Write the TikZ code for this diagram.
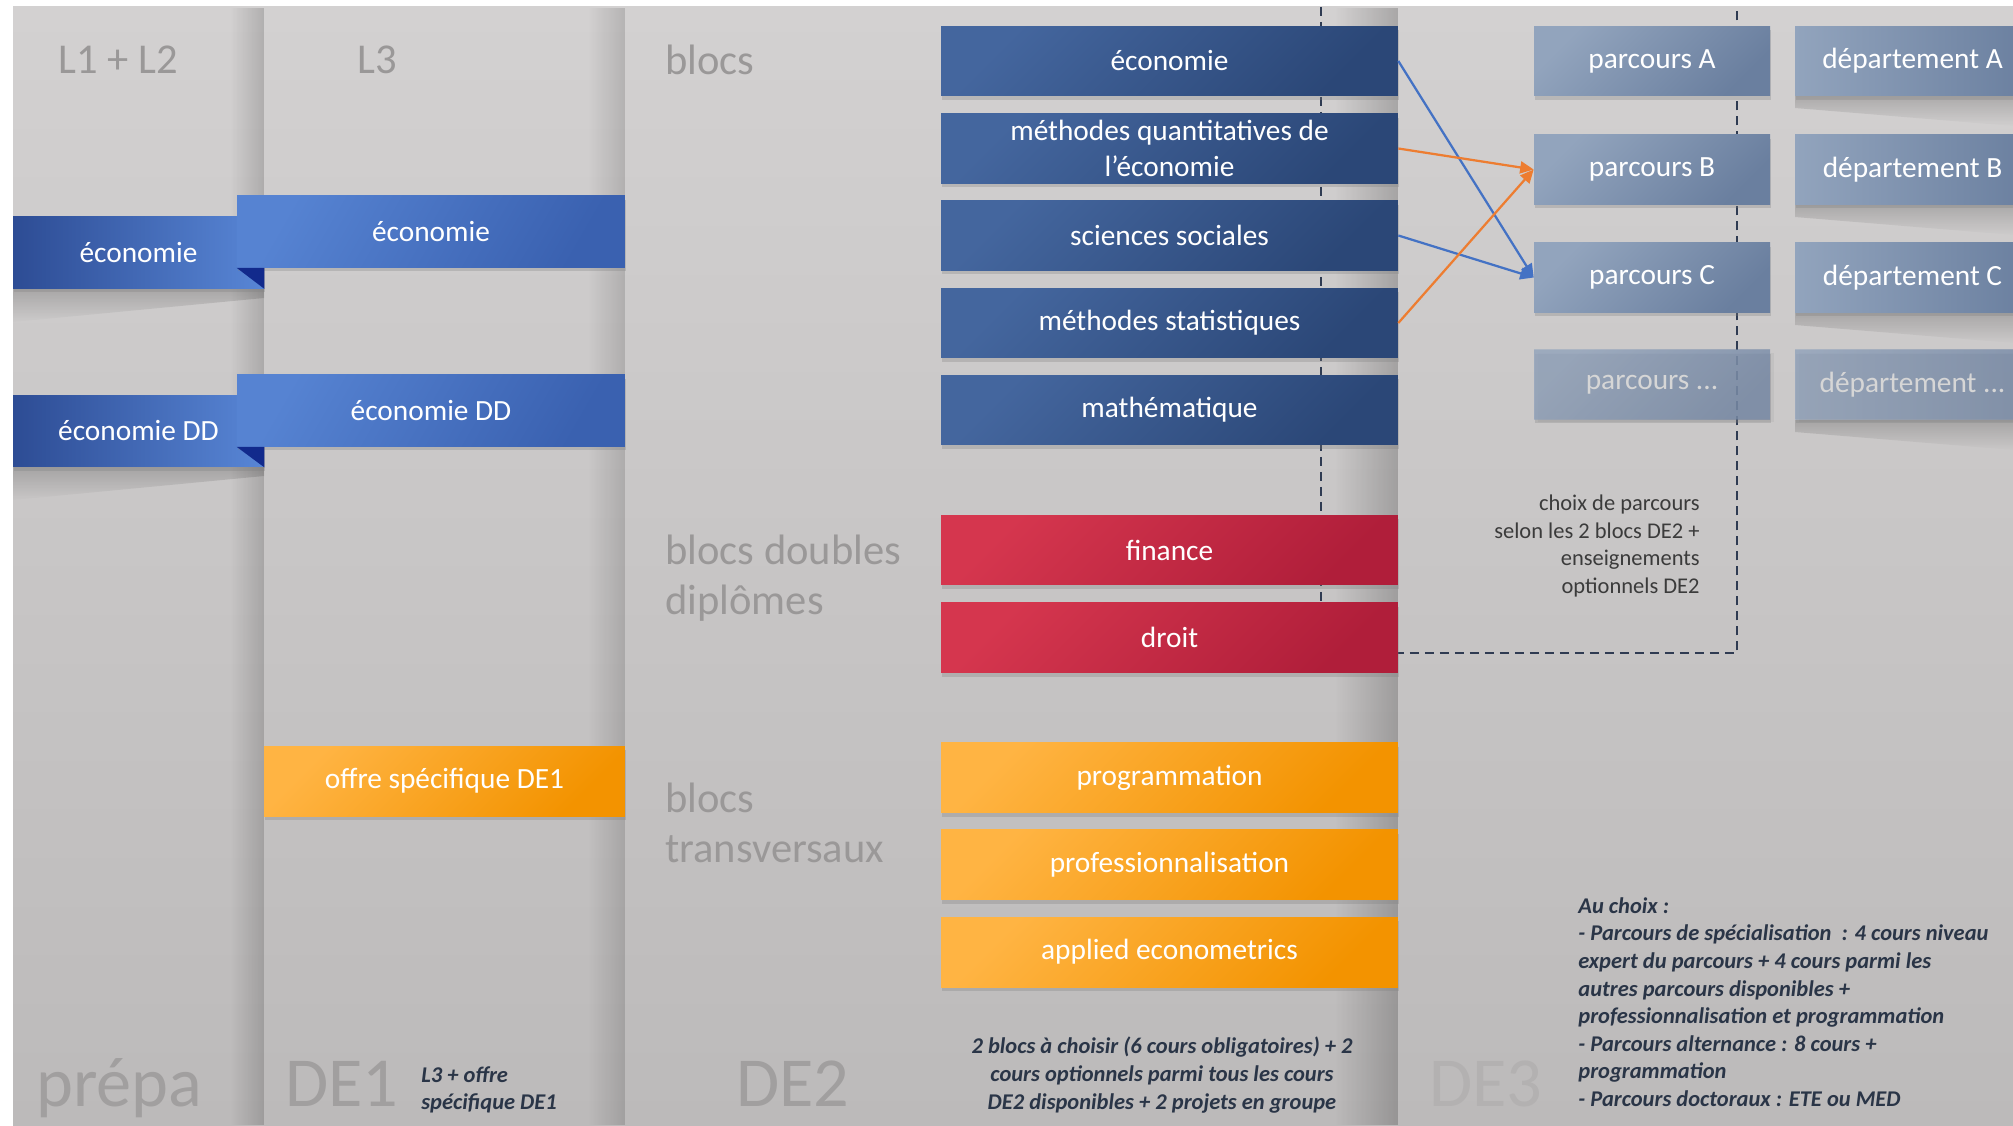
\documentclass[tikz,border=0pt]{standalone}
\usepackage{fontspec}
\setmainfont{Carlito}
\usetikzlibrary{arrows.meta,shadows,fadings}

\definecolor{bgtop}{HTML}{D3D1D1}
\definecolor{bgbot}{HTML}{BCBABA}
\definecolor{bleuA}{HTML}{44669E}
\definecolor{bleuB}{HTML}{2B4777}
\definecolor{rougeA}{HTML}{D5364E}
\definecolor{rougeB}{HTML}{B01E3A}
\definecolor{orangeA}{HTML}{FFB443}
\definecolor{orangeB}{HTML}{F39300}
\definecolor{prepaL}{HTML}{2D4C94}
\definecolor{prepaR}{HTML}{5886D6}
\definecolor{ltroisA}{HTML}{5683D2}
\definecolor{ltroisB}{HTML}{3A61B0}
\definecolor{parcA}{HTML}{92A4BD}
\definecolor{parcB}{HTML}{6A7F9F}
\definecolor{pli}{HTML}{122A8C}
\definecolor{cadre}{HTML}{2F3B52}
\definecolor{flBleu}{HTML}{4472C4}
\definecolor{flOrange}{HTML}{ED7D31}
\definecolor{gristitre}{HTML}{9A9898}
\definecolor{grisannee}{HTML}{A19F9F}
\definecolor{grisde3}{HTML}{B3B1B1}
\definecolor{notecol}{HTML}{2A3547}
\definecolor{remcol}{HTML}{3B3B3B}

\newcommand\boxtxt{\fontsize{16.7}{20.5}\selectfont}
\newcommand\titretxt{\fontsize{24.2}{28.5}\selectfont}
\newcommand\anneetxt{\fontsize{40}{44}\selectfont}
\newcommand\notetxt{\fontsize{12.8}{15.7}\selectfont}

\tikzfading[name=fadedown, top color=transparent!20, bottom color=transparent!100]
\tikzfading[name=faderight, left color=transparent!100, right color=transparent!0]

\tikzset{
  boite/.style={minimum height=1.4cm, inner sep=0pt, text=white, font=\boxtxt, align=center,
    drop shadow={shadow xshift=0.02cm, shadow yshift=-0.08cm, opacity=0.3}},
  bloc/.style={boite, minimum width=9.14cm},
  bleu/.style={bloc, top color=bleuA, bottom color=bleuB, shading angle=45},
  rouge/.style={bloc, top color=rougeA, bottom color=rougeB, shading angle=45},
  orange/.style={bloc, top color=orangeA, bottom color=orangeB, shading angle=45},
  ruban/.style={boite, minimum height=1.44cm},
  parc/.style={boite, minimum width=4.72cm, top color=parcA, bottom color=parcB, shading angle=45},
  dept/.style={boite, minimum width=4.7cm, drop shadow={opacity=0}, left color=parcA, right color=parcB},
  pale/.style={fill=parcB!75!white, fill opacity=0.55, text=white!84!black, text opacity=1, drop shadow={opacity=0.12, shadow yshift=-0.06cm}},
  titre/.style={inner sep=0pt, text=gristitre, font=\titretxt},
  annee/.style={inner sep=0pt, text=grisannee, font=\anneetxt, anchor=base west},
  note/.style={inner sep=0pt, text=notecol, font=\notetxt\bfseries\itshape},
  remarque/.style={inner sep=0pt, text=remcol, font=\notetxt},
  ombre/.style={fill=black, opacity=0.22, path fading=fadedown},
  tiret/.style={cadre, line width=0.05cm, dash pattern=on 0.18cm off 0.12cm},
  fleche/.style={line width=0.045cm, -{Triangle[length=0.27cm, width=0.24cm]}},
}

\begin{document}
\begin{tikzpicture}[x=0.02cm, y=-0.02cm]
\useasboundingbox (0,0) rectangle (2013,1125);
\fill[white] (0,0) rectangle (2013,1125);
\shade[top color=bgtop, bottom color=bgbot] (13,7) rectangle (2013,1125);
% column edges
\foreach \a/\b/\o in {230/264/0.16, 588/625/0.14, 1335/1398/0.2}
  \fill[black, opacity=\o, path fading=faderight] (\a,7) rectangle (\b,1125);

% titles
\node[titre] (tL12) at (118,60) {L1 + L2};
\node[titre] (tL3) at (377,60) {L3};
\node[titre, anchor=west] (tblocs) at (665,60) {blocs};
\node[titre, anchor=west, align=left] (tdd) at (665,578) {blocs doubles\\diplômes};
\node[titre, anchor=west, align=left] (ttr) at (665,823) {blocs\\transversaux};

\node[annee] (prepa) at (36,1106) {prépa};
\node[annee] (de1) at (285,1106) {DE1};
\node[annee] (de2) at (736,1106) {DE2};
\node[annee, text=grisde3] (de3) at (1429,1106) {DE3};

% dashed frame
\coordinate (c1) at (1321,7);
\coordinate (c2) at (1321,653);
\coordinate (c3) at (1737,653);
\coordinate (c4) at (1737,7);
\draw[tiret] (c1) -- (c2) -- (c3) -- (c4);

% prepa / DE1
\fill[ombre] (13,289) -- (264,289) -- (264,298) -- (13,322) -- cycle;
\fill[ombre] (13,467) -- (264,467) -- (264,476) -- (13,500) -- cycle;
\node[ruban, minimum width=5.02cm, left color=prepaL, right color=prepaR, drop shadow={opacity=0}] (pEco) at (138.5,252.5) {économie};
\node[ruban, minimum width=5.02cm, left color=prepaL, right color=prepaR, drop shadow={opacity=0}] (pDD) at (138.5,431) {économie DD};
\node[ruban, minimum width=7.76cm, top color=ltroisA, bottom color=ltroisB, shading angle=60] (lEco) at (431,231.5) {économie};
\node[ruban, minimum width=7.76cm, top color=ltroisA, bottom color=ltroisB, shading angle=60] (lDD) at (431,410.5) {économie DD};
\fill[pli] (lEco.south west) -- (lEco.south west -| pEco.east) -- (pEco.south east) -- cycle;
\fill[pli] (lDD.south west) -- (lDD.south west -| pDD.east) -- (pDD.south east) -- cycle;
\node[boite, minimum width=7.22cm, top color=orangeA, bottom color=orangeB, shading angle=45] (offre) at (444.5,781) {offre spécifique DE1};

% DE2
\node[bleu] (b1) at (1169.5,61) {économie};
\node[bleu] (b2) at (1169.5,148.5) {méthodes quantitatives de\\l'économie};
\node[bleu] (b3) at (1169.5,235.5) {sciences sociales};
\node[bleu] (b4) at (1169.5,323) {méthodes statistiques};
\node[bleu] (b5) at (1169.5,410) {mathématique};
\node[rouge] (r1) at (1169.5,550) {finance};
\node[rouge] (r2) at (1169.5,637.5) {droit};
\node[orange] (o1) at (1169.5,777.5) {programmation};
\node[orange] (o2) at (1169.5,864.5) {professionnalisation};
\node[orange] (o3) at (1169.5,952) {applied econometrics};

% DE3
\node[parc] (pA) at (1652,61) {parcours A};
\node[parc] (pB) at (1652,169.5) {parcours B};
\node[parc] (pC) at (1652,277.5) {parcours C};
\node[parc, pale] (pX) at (1652,384.5) {parcours ...};
\foreach \y in {96,205,313,420}
  \fill[ombre] (1795,\y) -- (2013,\y) -- (2013,\y+30) -- (1795,\y+12) -- cycle;
\node[dept] (dA) at (1912.5,61) {département A};
\node[dept] (dB) at (1912.5,169.5) {département B};
\node[dept] (dC) at (1912.5,277.5) {département C};
\node[dept, pale] (dX) at (1912.5,384.5) {département ...};

\draw[fleche, flBleu] (b1.east) -- (pC.west);
\draw[fleche, flBleu] (b3.east) -- (pC.west);
\draw[fleche, flOrange] (b2.east) -- (pB.west);
\draw[fleche, flOrange] (b4.east) -- (pB.west);

% notes
\node[remarque, anchor=east, align=right] (choix) at (1700,546) {choix de parcours\\selon les 2 blocs DE2 +\\enseignements\\optionnels DE2};
\node[note, anchor=west, align=left] (nde1) at (421,1090) {L3 + offre\\spécifique DE1};
\node[note, align=center] (nde2) at (1162,1075) {2 blocs à choisir (6 cours obligatoires) + 2\\cours optionnels parmi tous les cours\\DE2 disponibles + 2 projets en groupe};
\node[note, anchor=west, align=left] (nde3) at (1578,1002) {Au choix :\\- Parcours de spécialisation~ : 4 cours niveau\\expert du parcours + 4 cours parmi les\\autres parcours disponibles +\\professionnalisation et programmation\\- Parcours alternance : 8 cours +\\programmation\\- Parcours doctoraux : ETE ou MED};
\end{tikzpicture}
\end{document}
